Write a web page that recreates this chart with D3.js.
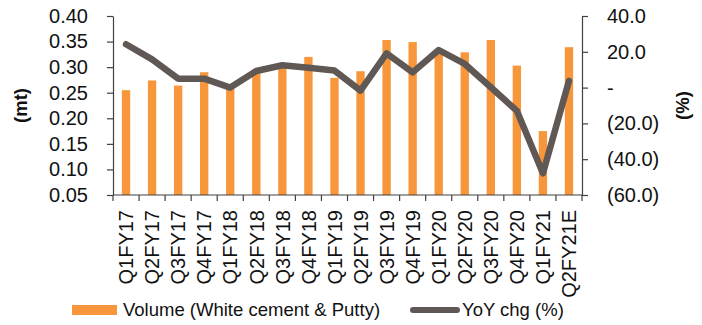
<!DOCTYPE html>
<html>
<head>
<meta charset="utf-8">
<script src="https://cdn.jsdelivr.net/npm/d3@7"></script>
<style>
  html, body { margin: 0; padding: 0; background: #fff; }
  svg { display: block; font-family: "Liberation Sans", Arial, sans-serif; }
</style>
</head>
<body>
<svg id="chart" width="702" height="325"></svg>
<script>
// Quarterly volumes and year-on-year change
const categories = ["Q1FY17","Q2FY17","Q3FY17","Q4FY17","Q1FY18","Q2FY18","Q3FY18","Q4FY18",
  "Q1FY19","Q2FY19","Q3FY19","Q4FY19","Q1FY20","Q2FY20","Q3FY20","Q4FY20","Q1FY21","Q2FY21E"];
const volume = [0.255, 0.274, 0.264, 0.290, 0.258, 0.296, 0.300, 0.320,
  0.279, 0.292, 0.353, 0.349, 0.330, 0.329, 0.353, 0.303, 0.175, 0.339];
const yoyChg = [24.2, 15.8, 5.0, 5.0, 0.0, 9.3, 12.5, 11.1,
  9.5, -1.7, 19.1, 8.5, 21.0, 13.2, 0.2, -13.0, -47.9, 3.7];
const leftTicks = [0.05, 0.10, 0.15, 0.20, 0.25, 0.30, 0.35, 0.40];
const rightTicks = [-60, -40, -20, 0, 20, 40];
const seriesNames = ["Volume (White cement & Putty)", "YoY chg (%)"];

const BAR = "#F7963A", LINE = "#5F5854", AXIS = "#404040", TEXT = "#111";
const FS_AXIS = 20, FS_TITLE = 18.5, FS_LEGEND = 18.5;

const svg = d3.select("#chart");
const m = { left: 113, right: 582, top: 16, bottom: 195 };

const x = d3.scaleBand().domain(categories).range([m.left, m.right]).padding(0);
const yL = d3.scaleLinear().domain([0.05, 0.40]).range([m.bottom, m.top]);
const yR = d3.scaleLinear().domain([-60, 40]).range([m.bottom, m.top]);

// Bars
const bw = x.bandwidth() * 0.32;
svg.append("g").selectAll("rect").data(categories).join("rect")
  .attr("x", (d) => x(d) + x.bandwidth() / 2 - bw / 2)
  .attr("width", bw)
  .attr("y", (d, i) => yL(volume[i]))
  .attr("height", (d, i) => yL(0.05) - yL(volume[i]))
  .attr("fill", BAR);

// Axes
function styleAxis(g) {
  g.selectAll("path, line").attr("stroke", AXIS).attr("stroke-width", 1.2);
  g.selectAll("text").attr("fill", TEXT).attr("font-size", FS_AXIS)
    .attr("font-family", "Liberation Sans, Arial, sans-serif");
}

svg.append("g").attr("transform", `translate(${m.left},0)`)
  .call(d3.axisLeft(yL).tickValues(leftTicks).tickFormat(d3.format(".2f"))
    .tickSize(6).tickSizeOuter(0).tickPadding(19))
  .call(styleAxis);

const fmtR = (v) => v === 0 ? "-" : v < 0 ? `(${d3.format(".1f")(-v)})` : d3.format(".1f")(v);
svg.append("g").attr("transform", `translate(${m.right},0)`)
  .call(d3.axisRight(yR).tickValues(rightTicks).tickFormat(fmtR)
    .tickSize(6).tickSizeOuter(0).tickPadding(19))
  .call(styleAxis)
  .call((g) => g.selectAll("text").attr("text-anchor", "start"));

// Category axis: labels at band centres, ticks at band boundaries
const xAxis = svg.append("g").attr("transform", `translate(0,${m.bottom})`)
  .call(d3.axisBottom(x).tickSize(0).tickSizeOuter(0))
  .call(styleAxis);
xAxis.select(".domain").attr("d", `M${m.left},0H${m.right}`);
xAxis.selectAll(".tick text")
  .attr("transform", "rotate(-90)")
  .attr("text-anchor", "end")
  .attr("x", -15).attr("y", 0).attr("dy", "0.36em");
const bounds = categories.map((c) => x(c)).concat([x(categories[categories.length - 1]) + x.bandwidth()]);
xAxis.append("g").selectAll("line").data(bounds).join("line")
  .attr("x1", (d) => d).attr("x2", (d) => d)
  .attr("y1", 0).attr("y2", 6)
  .attr("stroke", AXIS).attr("stroke-width", 1.2);

// YoY line
const line = d3.line()
  .x((d, i) => x(categories[i]) + x.bandwidth() / 2)
  .y((d) => yR(d));
svg.append("path").datum(yoyChg)
  .attr("d", line)
  .attr("fill", "none")
  .attr("stroke", LINE)
  .attr("stroke-width", 6.5)
  .attr("stroke-linejoin", "round")
  .attr("stroke-linecap", "round");

// Axis titles
svg.append("text").attr("transform", `translate(21,${(m.top + m.bottom) / 2}) rotate(-90)`)
  .attr("text-anchor", "middle").attr("dy", "0.35em")
  .attr("font-size", FS_TITLE).attr("font-weight", "bold").attr("fill", TEXT).text("(mt)");
svg.append("text").attr("transform", `translate(683,${(m.top + m.bottom) / 2}) rotate(-90)`)
  .attr("text-anchor", "middle").attr("dy", "0.35em")
  .attr("font-size", FS_TITLE).attr("font-weight", "bold").attr("fill", TEXT).text("(%)");

// Legend
const lg = svg.append("g").attr("transform", "translate(0,310)");
lg.append("rect").attr("x", 72).attr("y", -5).attr("width", 45).attr("height", 10).attr("fill", BAR);
lg.append("text").attr("x", 123).attr("y", 0).attr("dy", "0.35em")
  .attr("font-size", FS_LEGEND).attr("fill", TEXT).text(seriesNames[0]);
lg.append("line").attr("x1", 413).attr("x2", 457).attr("y1", 0).attr("y2", 0)
  .attr("stroke", LINE).attr("stroke-width", 6).attr("stroke-linecap", "round");
lg.append("text").attr("x", 462).attr("y", 0).attr("dy", "0.35em")
  .attr("font-size", FS_LEGEND).attr("fill", TEXT).text(seriesNames[1]);
</script>
</body>
</html>
